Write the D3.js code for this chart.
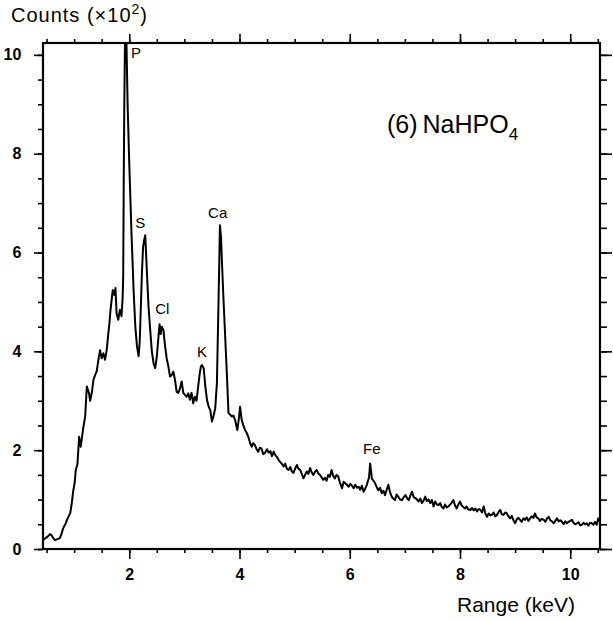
<!DOCTYPE html>
<html>
<head>
<meta charset="utf-8">
<script src="https://cdn.jsdelivr.net/npm/d3@7"></script>
<style>
  body { margin: 0; background: #fff; }
  text { font-family: "Liberation Sans", Arial, sans-serif; fill: #000; }
</style>
</head>
<body>
<svg id="chart"></svg>
<script>
// spectrum: energy (keV) and counts (x100)
const energy = [
  0.44,0.48,0.52,0.56,0.59,0.62,0.65,0.70,0.74,0.77,0.80,0.84,0.87,0.90,0.93,0.96,0.98,1.01,1.03,1.06,
  1.09,1.12,1.16,1.20,1.22,1.23,1.27,1.29,1.32,1.35,1.38,1.41,1.44,1.47,1.50,1.53,1.56,1.59,1.62,1.64,
  1.66,1.70,1.73,1.75,1.77,1.80,1.83,1.86,1.88,1.89,1.90,1.91,1.925,1.945,1.97,2.00,2.04,2.08,2.11,2.14,
  2.17,2.19,2.21,2.23,2.25,2.27,2.29,2.30,2.32,2.35,2.38,2.41,2.44,2.47,2.50,2.53,2.55,2.57,2.59,2.62,
  2.65,2.68,2.71,2.74,2.77,2.80,2.83,2.86,2.89,2.92,2.95,2.98,3.01,3.04,3.07,3.10,3.13,3.16,3.19,3.22,
  3.25,3.28,3.30,3.32,3.35,3.38,3.41,3.44,3.47,3.50,3.53,3.56,3.59,3.62,3.645,3.665,3.68,3.71,3.74,3.77,
  3.80,3.83,3.86,3.89,3.92,3.96,3.99,4.01,4.04,4.07,4.10,4.13,4.16,4.19,4.22,4.25,4.28,4.31,4.34,4.37,
  4.40,4.43,4.46,4.50,4.53,4.56,4.59,4.62,4.65,4.68,4.71,4.74,4.77,4.80,4.83,4.86,4.89,4.92,4.95,4.98,
  5.01,5.04,5.07,5.10,5.13,5.16,5.19,5.22,5.25,5.28,5.31,5.34,5.37,5.40,5.43,5.46,5.49,5.52,5.55,5.58,
  5.61,5.64,5.67,5.70,5.73,5.76,5.79,5.82,5.86,5.89,5.92,5.95,5.98,6.01,6.04,6.07,6.10,6.13,6.16,6.19,
  6.22,6.25,6.28,6.31,6.35,6.37,6.39,6.40,6.43,6.46,6.49,6.52,6.55,6.58,6.61,6.64,6.67,6.70,6.73,6.76,
  6.79,6.82,6.85,6.88,6.91,6.95,6.98,7.01,7.04,7.07,7.10,7.13,7.16,7.19,7.22,7.25,7.28,7.31,7.34,7.37,
  7.40,7.43,7.46,7.49,7.52,7.55,7.58,7.61,7.64,7.67,7.70,7.73,7.76,7.79,7.82,7.85,7.88,7.91,7.94,7.97,
  8.00,8.03,8.06,8.09,8.12,8.15,8.19,8.22,8.25,8.28,8.31,8.34,8.37,8.40,8.43,8.46,8.49,8.52,8.55,8.58,
  8.61,8.64,8.67,8.70,8.73,8.76,8.79,8.82,8.85,8.88,8.91,8.94,8.97,9.00,9.03,9.06,9.09,9.12,9.15,9.18,
  9.21,9.24,9.27,9.30,9.33,9.36,9.39,9.42,9.45,9.48,9.52,9.55,9.58,9.61,9.64,9.67,9.70,9.73,9.76,9.79,
  9.82,9.85,9.88,9.91,9.94,9.97,10.00,10.03,10.06,10.09,10.12,10.15,10.18,10.21,10.24,10.27,10.30,10.33,10.36,10.39,
  10.42,10.45,10.48,10.51,10.54
];
const counts = [
  0.18,0.22,0.25,0.30,0.28,0.22,0.18,0.20,0.22,0.30,0.42,0.50,0.59,0.66,0.73,0.95,1.15,1.35,1.60,1.72,
  2.27,2.07,2.41,2.68,3.08,3.29,3.15,3.00,3.16,3.42,3.52,3.60,3.83,4.02,3.86,3.96,3.83,4.02,4.36,4.57,
  4.84,5.24,5.14,5.28,4.77,4.64,4.84,4.71,5.10,5.51,7.50,9.00,10.50,10.50,9.00,7.80,6.40,5.20,4.50,4.10,
  3.90,4.20,4.90,5.60,6.10,6.25,6.35,6.10,5.60,4.90,4.43,4.00,3.76,3.66,3.90,4.30,4.55,4.35,4.50,4.43,
  4.10,3.85,3.69,3.49,3.52,3.59,3.42,3.18,3.16,3.25,3.39,3.16,3.12,3.08,3.15,3.02,3.16,2.95,3.08,3.00,
  3.29,3.56,3.70,3.72,3.66,3.29,3.02,2.88,2.81,2.58,2.70,2.85,3.36,5.04,6.55,6.30,5.85,5.04,4.30,3.56,
  2.75,2.72,2.68,2.70,2.61,2.41,2.65,2.88,2.61,2.50,2.41,2.35,2.27,2.15,2.07,2.14,2.10,2.02,1.97,2.05,
  2.03,1.92,1.94,2.02,1.95,1.98,1.88,1.97,1.90,1.86,1.80,1.76,1.72,1.67,1.73,1.62,1.60,1.66,1.57,1.54,
  1.63,1.70,1.62,1.60,1.52,1.43,1.50,1.57,1.52,1.64,1.55,1.50,1.56,1.60,1.53,1.50,1.45,1.40,1.44,1.38,
  1.50,1.46,1.60,1.48,1.43,1.50,1.47,1.35,1.23,1.36,1.33,1.30,1.26,1.32,1.28,1.23,1.30,1.24,1.26,1.20,
  1.28,1.16,1.22,1.30,1.45,1.73,1.55,1.43,1.38,1.33,1.25,1.19,1.24,1.13,1.18,1.09,1.20,1.30,1.15,1.06,
  1.02,0.99,1.10,1.06,1.00,0.99,1.05,1.09,1.03,0.99,1.08,1.16,1.05,1.03,1.00,0.96,1.02,0.93,0.98,1.06,
  0.97,1.00,0.93,0.99,0.86,0.96,0.90,0.89,0.93,0.85,0.82,0.90,0.84,0.86,0.90,0.94,0.99,0.88,0.82,0.90,
  0.96,0.88,0.85,0.82,0.86,0.80,0.79,0.83,0.78,0.82,0.76,0.81,0.79,0.74,0.86,0.72,0.65,0.72,0.68,0.69,
  0.74,0.66,0.69,0.75,0.79,0.70,0.69,0.74,0.72,0.66,0.62,0.67,0.58,0.52,0.60,0.63,0.59,0.55,0.62,0.59,
  0.64,0.57,0.62,0.66,0.63,0.72,0.64,0.62,0.57,0.61,0.59,0.55,0.62,0.65,0.58,0.56,0.52,0.57,0.62,0.56,
  0.58,0.55,0.50,0.56,0.52,0.55,0.57,0.59,0.53,0.50,0.52,0.54,0.48,0.49,0.53,0.50,0.52,0.47,0.53,0.52,
  0.49,0.55,0.49,0.62,0.55
];

// element labels: name, energy, counts where the label sits
const peakNames  = ["P", "S", "Cl", "K", "Ca", "Fe"];
const peakEnergy = [2.03, 2.11, 2.47, 3.23, 3.43, 6.24];
const peakCounts = [9.94, 6.50, 4.76, 3.89, 6.70, 1.92];

const xMajor = [2, 4, 6, 8, 10];
const xMinor = d3.range(0.5, 10.51, 0.5);
const yMajor = [0, 2, 4, 6, 8, 10];
const yMinor = d3.range(0, 10.01, 0.5);

const width = 613, height = 622;
const margin = {top: 43, right: 13, bottom: 73, left: 43};
const w = width - margin.left - margin.right;
const h = height - margin.top - margin.bottom;

const svg = d3.select("#chart").attr("width", width).attr("height", height);

const x = d3.scaleLinear().domain([0.435, 10.54]).range([0, w]);
const y = d3.scaleLinear().domain([0, 10.24]).range([h, 0]);

const chart = svg.append("g").attr("transform", `translate(${margin.left},${margin.top})`);

chart.append("clipPath").attr("id", "plot-clip")
  .append("rect").attr("width", w).attr("height", h);

// axes: minor ticks first, then majors with labels
function drawAxis(axisFn, ticks, size, labels, transform) {
  const g = chart.append("g").attr("transform", transform);
  g.call(axisFn.tickValues(ticks).tickSize(size).tickSizeOuter(0)
      .tickFormat(labels ? d3.format("d") : ""));
  g.select(".domain").remove();
  g.selectAll(".tick line").attr("stroke", "#000").attr("stroke-width", 1.6);
  return g;
}

drawAxis(d3.axisBottom(x), xMinor, 4, false, `translate(0,${h})`);
drawAxis(d3.axisBottom(x), xMajor, 10, true, `translate(0,${h})`)
  .selectAll("text").attr("font-size", 16).attr("font-weight", "bold").attr("dy", "1.15em");
drawAxis(d3.axisTop(x), xMinor, 4, false, "translate(0,0)");
drawAxis(d3.axisTop(x), xMajor, 9, false, "translate(0,0)");

drawAxis(d3.axisLeft(y), yMinor, 5, false, "translate(0,0)");
drawAxis(d3.axisLeft(y), yMajor, 9, true, "translate(0,0)")
  .selectAll("text").attr("font-size", 16).attr("font-weight", "bold").attr("dx", "-0.6em");
drawAxis(d3.axisRight(y), yMinor, 7, false, `translate(${w},0)`);
drawAxis(d3.axisRight(y), yMajor, 12, false, `translate(${w},0)`);

chart.append("rect")
  .attr("width", w).attr("height", h)
  .attr("fill", "none").attr("stroke", "#000").attr("stroke-width", 2.2);

const line = d3.line()
  .x((d, i) => x(energy[i]))
  .y(d => y(d));

chart.append("path")
  .datum(counts)
  .attr("clip-path", "url(#plot-clip)")
  .attr("fill", "none")
  .attr("stroke", "#000")
  .attr("stroke-width", 2)
  .attr("stroke-linejoin", "round")
  .attr("d", line);

chart.selectAll(".peak")
  .data(peakNames)
  .join("text")
  .attr("class", "peak")
  .attr("x", (d, i) => x(peakEnergy[i]))
  .attr("y", (d, i) => y(peakCounts[i]))
  .attr("font-size", 15)
  .text(d => d);

// titles
const yTitle = svg.append("text").attr("x", 11).attr("y", 22)
  .attr("font-size", 20).attr("letter-spacing", 1);
yTitle.append("tspan").text("Counts (\u00d710");
yTitle.append("tspan").attr("font-size", 14).attr("dy", -8).text("2");
yTitle.append("tspan").attr("dy", 8).text(")");

svg.append("text").attr("x", 457).attr("y", 612)
  .attr("font-size", 21).text("Range (keV)");

const label = svg.append("text").attr("x", 387).attr("y", 133).attr("font-size", 25);
label.append("tspan").text("(6)\u2009NaHPO");
label.append("tspan").attr("font-size", 17).attr("dy", 7).text("4");
</script>
</body>
</html>
